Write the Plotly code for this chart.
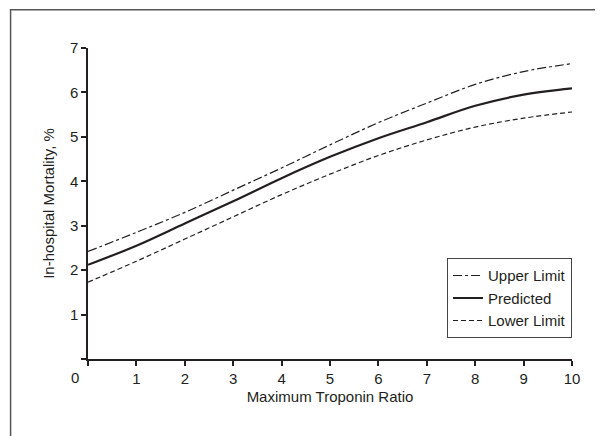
import plotly.graph_objects as go

troponin_ratio = [0, 1, 2, 3, 4, 5, 6, 7, 8, 9, 10]
upper_limit = [2.42, 2.85, 3.30, 3.80, 4.30, 4.82, 5.32, 5.76, 6.18, 6.47, 6.65]
predicted = [2.12, 2.55, 3.05, 3.55, 4.07, 4.55, 4.97, 5.33, 5.70, 5.95, 6.09]
lower_limit = [1.73, 2.20, 2.70, 3.20, 3.70, 4.16, 4.58, 4.93, 5.22, 5.42, 5.56]
x_ticks = [1, 2, 3, 4, 5, 6, 7, 8, 9, 10]
y_ticks = [0, 1, 2, 3, 4, 5, 6, 7]
y_ticktext = ["", "1", "2", "3", "4", "5", "6", "7"]

FONT = "Liberation Sans, Arial, Helvetica, sans-serif"
INK = "#231f20"

fig = go.Figure()
fig.add_trace(go.Scatter(x=troponin_ratio, y=upper_limit, mode="lines", name="Upper Limit",
                         line=dict(color=INK, width=1.2, dash="dashdot", shape="spline")))
fig.add_trace(go.Scatter(x=troponin_ratio, y=predicted, mode="lines", name="Predicted",
                         line=dict(color=INK, width=2.2, shape="spline")))
fig.add_trace(go.Scatter(x=troponin_ratio, y=lower_limit, mode="lines", name="Lower Limit",
                         line=dict(color=INK, width=1.2, dash="5px,3px", shape="spline")))

L, R, T, B = 79.5, 39, 40, 85.3
plot_w = 603 - L - R
plot_h = 436 - T - B

fig.update_layout(
    width=603, height=436,
    margin=dict(l=L, r=R, t=T, b=B, pad=0, autoexpand=False),
    paper_bgcolor="white", plot_bgcolor="white",
    font=dict(family=FONT, size=15, color=INK),
    showlegend=True,
    legend=dict(x=1, xanchor="right", y=0.324, yanchor="top",
                bordercolor="#444", borderwidth=1, bgcolor="white",
                font=dict(family=FONT, size=15, color=INK),
                itemwidth=30, tracegroupgap=0),
    xaxis=dict(range=[0, 10], tickvals=[0] + x_ticks, ticktext=[""] + [str(v) for v in x_ticks],
               showgrid=False, zeroline=False, showline=True, linecolor=INK, linewidth=1.5,
               ticks="outside", ticklen=5, tickwidth=1.5, tickcolor=INK, automargin=False,
               title=dict(text="Maximum Troponin Ratio", font=dict(family=FONT, size=15), standoff=6)),
    yaxis=dict(range=[0, 7], tickvals=y_ticks, ticktext=y_ticktext,
               showgrid=False, zeroline=False, showline=True, linecolor=INK, linewidth=1.5,
               ticks="outside", ticklen=5, tickwidth=1.5, tickcolor=INK, automargin=False,
               title=dict(text="In-hospital Mortality, %", font=dict(family=FONT, size=15), standoff=12)),
    shapes=[dict(type="rect", xref="paper", yref="paper",
                 x0=(2 - L) / plot_w, x1=1.3, y0=-0.5, y1=(plot_h - 0.5 + 0) / plot_h + 0.5 / plot_h,
                 line=dict(color="#555", width=1.5), fillcolor="rgba(0,0,0,0)", layer="below")],
    annotations=[dict(text="0", x=0, y=0, xref="x", yref="y", showarrow=False,
                      xshift=-13, yshift=-18, font=dict(family=FONT, size=15, color=INK))],
)
fig.layout.shapes[0].y1 = (plot_h - 0.8) / plot_h + 0.8 / plot_h * 0 + (T - 1) / plot_h

fig.write_html("out.html")
